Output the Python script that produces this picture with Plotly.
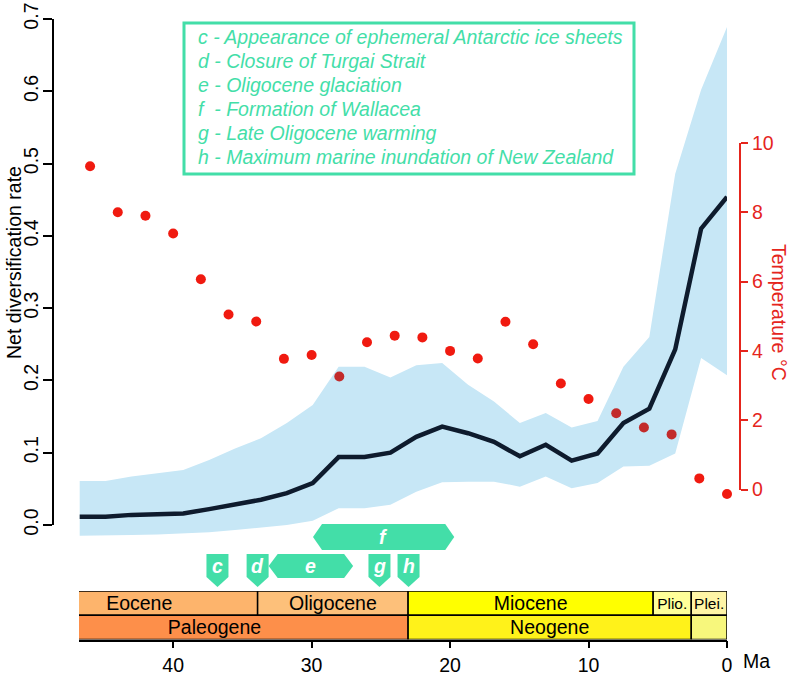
import numpy as np
import plotly.graph_objects as go

# ---------------- data ----------------
# net diversification rate through time (bins, Ma)
bin_age = [46.75, 44.88, 43.01, 41.14, 39.27, 37.40, 35.53, 33.66, 31.79, 29.92,
           28.05, 26.18, 24.31, 22.44, 20.57, 18.70, 16.83, 14.96, 13.09, 11.22,
           9.35, 7.48, 5.61, 3.74, 1.87, 0.0]
rate_mean = [0.0115, 0.0115, 0.014, 0.015, 0.016, 0.022, 0.029, 0.035, 0.044, 0.058,
             0.094, 0.094, 0.100, 0.122, 0.136, 0.127, 0.115, 0.095, 0.111, 0.089,
             0.099, 0.141, 0.161, 0.243, 0.410, 0.454]
rate_upper = [0.061, 0.061, 0.067, 0.071, 0.076, 0.090, 0.106, 0.120, 0.141, 0.166,
              0.219, 0.219, 0.204, 0.221, 0.224, 0.194, 0.171, 0.141, 0.155, 0.135,
              0.144, 0.219, 0.260, 0.486, 0.602, 0.689]
rate_lower = [-0.015, -0.015, -0.014, -0.013, -0.012, -0.010, -0.007, -0.004, 0.000, 0.006,
              0.023, 0.023, 0.028, 0.046, 0.059, 0.060, 0.060, 0.053, 0.067, 0.051,
              0.058, 0.081, 0.082, 0.099, 0.231, 0.207]

# temperature record (°C)
temp_age = [46, 44, 42, 40, 38, 36, 34, 32, 30, 28, 26, 24, 22, 20,
            18, 16, 14, 12, 10, 8, 6, 4, 2, 0]
temp_c = [9.33, 8.0, 7.9, 7.39, 6.07, 5.05, 4.85, 3.77, 3.88, 3.26, 4.25, 4.44, 4.39, 4.0,
          3.78, 4.84, 4.19, 3.06, 2.61, 2.2, 1.79, 1.59, 0.32, -0.13]

# geological timescale (strip starts beyond the plotted window)
epoch_names = ["Eocene", "Oligocene", "Miocene", "Plio.", "Plei."]
epoch_old = [51.0, 33.9, 23.03, 5.333, 2.58]
epoch_young = [33.9, 23.03, 5.333, 2.58, 0.0]
period_names = ["Paleogene", "Neogene", ""]
period_old = [51.0, 23.03, 2.58]
period_young = [23.03, 2.58, 0.0]

# events
event_point_labels = ["c", "d", "g", "h"]
event_point_ages = [36.8, 33.9, 25.1, 23.0]
event_span_labels = ["e", "f"]
event_span_old = [33.1, 29.9]
event_span_young = [27.0, 19.7]

legend_lines = [
    "c - Appearance of ephemeral Antarctic ice sheets",
    "d - Closure of Turgai Strait",
    "e - Oligocene glaciation",
    "f\u00a0\u00a0- Formation of Wallacea",
    "g - Late Oligocene warming",
    "h - Maximum marine inundation of New Zealand",
]

rate_ticks = [0.0, 0.1, 0.2, 0.3, 0.4, 0.5, 0.6, 0.7]
temp_ticks = [0, 2, 4, 6, 8, 10]
age_ticks = [40, 30, 20, 10, 0]

# ---------------- geometry / style ----------------
W, H = 793, 676
FONT = "Liberation Sans, Arial, Helvetica, sans-serif"
FS = 19.5
MINT = "#43dea8"
RED = "#f01a10"
DARKRED = "#c22b2b"
AXRED = "#e5251d"
BAND = "#c7e7f6"
NAVY = "#0e1b2d"


def fx(p):
    return p / W


def fy(p):
    return 1 - p / H


X_L, X_R = 79, 727
X_RANGE = [46.8, 0]
PX_PER_MA = (X_R - X_L) / (X_RANGE[0] - X_RANGE[1])
RATE_TOP_PX, RATE_ZERO_PX, RATE_TOP = 19, 525, 0.7
PX_PER_RATE = (RATE_ZERO_PX - RATE_TOP_PX) / RATE_TOP
RATE_MIN = -0.025
RATE_BOTTOM_PX = RATE_ZERO_PX - RATE_MIN * PX_PER_RATE
T0_PX, T10_PX = 489.5, 143
PX_PER_DEG = (T0_PX - T10_PX) / 10
TEMP_MIN = -0.6
TEMP_BOTTOM_PX = T0_PX - TEMP_MIN * PX_PER_DEG
TS_TOP, TS_BOT = 591, 639.5

# points that fall inside the uncertainty band are shown darker (as in original)
t_px = T0_PX - np.array(temp_c) * PX_PER_DEG
t_as_rate = (RATE_ZERO_PX - t_px) / PX_PER_RATE
ba = np.array(bin_age)[::-1]
lo_i = np.interp(temp_age, ba, np.array(rate_lower)[::-1])
hi_i = np.interp(temp_age, ba, np.array(rate_upper)[::-1])
dot_colors = [DARKRED if (lo <= r <= hi) else RED for r, lo, hi in zip(t_as_rate, lo_i, hi_i)]

fig = go.Figure()

fig.add_trace(go.Scatter(x=bin_age, y=rate_lower, mode="lines", line=dict(width=0),
                         hoverinfo="skip", showlegend=False))
fig.add_trace(go.Scatter(x=bin_age, y=rate_upper, mode="lines", line=dict(width=0),
                         fill="tonexty", fillcolor=BAND, hoverinfo="skip", showlegend=False))
fig.add_trace(go.Scatter(x=bin_age, y=rate_mean, mode="lines",
                         line=dict(color=NAVY, width=4.5), showlegend=False))
# temperature points on a hidden data axis sharing the display axis' scale
fig.add_trace(go.Scatter(x=temp_age, y=temp_c, mode="markers", yaxis="y5",
                         marker=dict(size=10, color=dot_colors), cliponaxis=False,
                         showlegend=False))
# dummy traces so the display axes are drawn
fig.add_trace(go.Scatter(x=[None], y=[None], yaxis="y3", showlegend=False, hoverinfo="skip"))
fig.add_trace(go.Scatter(x=[None], y=[None], yaxis="y2", showlegend=False, hoverinfo="skip"))

# timescale bars
fig.add_trace(go.Bar(orientation="h", y=[1] * len(epoch_names),
                     x=[o - y for o, y in zip(epoch_old, epoch_young)], base=epoch_young,
                     width=1, yaxis="y4", text=epoch_names, textposition="inside",
                     insidetextanchor="middle", textangle=0, constraintext="none",
                     textfont=dict(size=[FS, FS, FS, 15.5, 15.5], color="black", family=FONT),
                     marker=dict(color=["#fdb46c", "#fdc07a", "#ffff00", "#ffff99", "#fff5a6"],
                                 line=dict(color="black", width=1.5)),
                     hoverinfo="skip", showlegend=False))
fig.add_trace(go.Bar(orientation="h", y=[0] * len(period_names),
                     x=[o - y for o, y in zip(period_old, period_young)], base=period_young,
                     width=1, yaxis="y4", text=period_names, textposition="inside",
                     insidetextanchor="middle", textangle=0, constraintext="none",
                     textfont=dict(size=FS, color="black", family=FONT),
                     marker=dict(color=["#fd8f4a", "#fff21a", "#f7f77c"],
                                 line=dict(color="black", width=1.5)),
                     hoverinfo="skip", showlegend=False))

shapes = []
annotations = []

# legend box
shapes.append(dict(type="rect", xref="paper", yref="paper", x0=fx(184), x1=fx(634),
                   y0=fy(174), y1=fy(23), line=dict(color=MINT, width=3)))
for i, line in enumerate(legend_lines):
    annotations.append(dict(xref="paper", yref="paper", x=fx(196), y=fy(36.7 + 24.1 * i),
                            xanchor="left", yanchor="middle", showarrow=False, text=line,
                            font=dict(family=FONT, size=FS, color=MINT, style="italic")))

# point-event tags
for lab, age in zip(event_point_labels, event_point_ages):
    shapes.append(dict(type="path", xref="x", yref="paper", xsizemode="pixel", ysizemode="pixel",
                       xanchor=age, yanchor=fy(587),
                       path="M 0,0 L -11,10 L -11,33 L 11,33 L 11,10 Z",
                       fillcolor=MINT, line=dict(width=0)))
    annotations.append(dict(xref="x", yref="paper", x=age, y=fy(566), text="<b><i>%s</i></b>" % lab,
                            showarrow=False, xanchor="center", yanchor="middle",
                            font=dict(family=FONT, size=FS, color="white")))

# span-event tags
tip = 9 / PX_PER_MA
span_y = {"e": (566, 12), "f": (537, 13)}
for lab, old, young in zip(event_span_labels, event_span_old, event_span_young):
    cy, h = span_y[lab]
    path = ("M {o},0 L {o2},{h} L {y2},{h} L {y},0 L {y2},{nh} L {o2},{nh} Z"
            .format(o=old, o2=old - tip, y=young, y2=young + tip, h=h, nh=-h))
    shapes.append(dict(type="path", xref="x", yref="paper", ysizemode="pixel", yanchor=fy(cy),
                       path=path, fillcolor=MINT, line=dict(width=0)))
    annotations.append(dict(xref="x", yref="paper", x=(old + young) / 2, y=fy(cy),
                            xanchor="center", yanchor="middle",
                            text="<b><i>%s</i></b>" % lab, showarrow=False,
                            font=dict(family=FONT, size=FS, color="white")))

# axis titles
annotations.append(dict(xref="paper", yref="paper", x=fx(14), y=fy(263), textangle=-90,
                        xanchor="center", yanchor="middle",
                        text="Net diversification rate", showarrow=False,
                        font=dict(family=FONT, size=FS, color="black")))
annotations.append(dict(xref="paper", yref="paper", x=fx(779), y=fy(312), textangle=90,
                        xanchor="center", yanchor="middle",
                        text="Temperature °C", showarrow=False,
                        font=dict(family=FONT, size=FS, color=AXRED)))
annotations.append(dict(xref="x", yref="paper", x=0, y=fy(661), xanchor="left", xshift=14,
                        yanchor="middle", text="Ma", showarrow=False,
                        font=dict(family=FONT, size=FS, color="black")))

fig.update_layout(
    width=W, height=H,
    margin=dict(l=0, r=0, t=0, b=0, autoexpand=False),
    paper_bgcolor="white", plot_bgcolor="rgba(0,0,0,0)",
    font=dict(family=FONT, size=FS, color="black"),
    showlegend=False, barmode="overlay",
    xaxis=dict(domain=[fx(X_L), fx(X_R)], range=X_RANGE, anchor="y4",
               showline=True, linecolor="black", linewidth=1.5,
               ticks="outside", ticklen=7, tickwidth=2, tickcolor="black",
               tickvals=age_ticks, ticktext=[str(t) for t in age_ticks],
               showgrid=False, zeroline=False, tickfont=dict(size=FS), automargin=False),
    yaxis=dict(domain=[fy(RATE_BOTTOM_PX), fy(RATE_TOP_PX)], range=[RATE_MIN, RATE_TOP],
               visible=False, anchor="x"),
    yaxis3=dict(domain=[fy(RATE_ZERO_PX), fy(RATE_TOP_PX)], range=[0, RATE_TOP],
                anchor="free", position=fx(53), side="left",
                showline=True, linecolor="black", linewidth=2,
                ticks="outside", ticklen=9, tickwidth=2, tickcolor="black",
                tickvals=rate_ticks, ticktext=["%.1f" % v for v in rate_ticks],
                tickangle=-90, ticklabelstandoff=-3,
                showgrid=False, zeroline=False, tickfont=dict(size=FS),
                automargin=False),
    yaxis2=dict(domain=[fy(T0_PX), fy(T10_PX)], range=[0, 10],
                anchor="free", position=fx(740), side="right",
                showline=True, linecolor=AXRED, linewidth=2,
                ticks="outside", ticklen=7, tickwidth=2, tickcolor=AXRED,
                tickvals=temp_ticks, tickfont=dict(size=FS, color=AXRED),
                showgrid=False, zeroline=False, automargin=False),
    yaxis5=dict(domain=[fy(TEMP_BOTTOM_PX), fy(T10_PX)], range=[TEMP_MIN, 10],
                anchor="x", visible=False),
    yaxis4=dict(domain=[fy(TS_BOT), fy(TS_TOP)], range=[-0.5, 1.5], anchor="x",
                visible=False),
    shapes=shapes, annotations=annotations,
)

fig.write_html("out.html", config={"displayModeBar": False},
               post_script="document.body.style.margin='0';document.body.style.overflow='hidden';")
